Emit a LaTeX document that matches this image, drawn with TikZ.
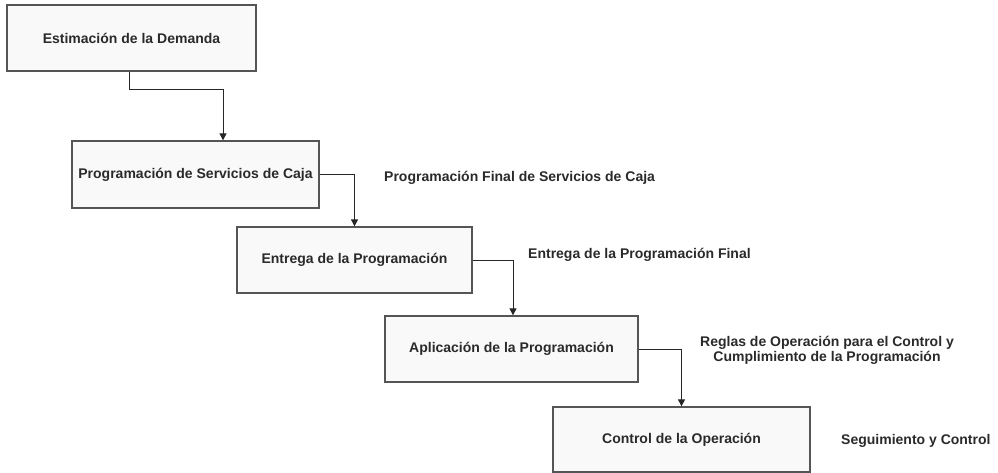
\documentclass[tikz,border=0pt]{standalone}
\usepackage{fontspec}
\setmainfont{Liberation Sans}
\usetikzlibrary{arrows.meta}
\definecolor{txt}{HTML}{2A2A2A}
\definecolor{edge}{HTML}{555555}
\definecolor{boxfill}{HTML}{F9F9F9}
\tikzset{
  stepbox/.style={draw=edge, fill=boxfill, line width=1.3pt, rectangle, inner sep=0pt,
    font=\fontsize{14}{16}\selectfont\bfseries, text=txt},
  conn/.style={draw=black!85, line width=1pt, -{Triangle[length=7pt,width=7pt]}},
  lab/.style={font=\fontsize{14}{15.5}\selectfont\bfseries, text=txt, inner sep=0pt}
}
\begin{document}
\begin{tikzpicture}[x=1pt,y=-1pt]
\useasboundingbox (0,0) rectangle (998,473);
\node[stepbox, minimum width=249pt, minimum height=66pt] (b1) at (131.5,38) {Estimación de la Demanda};
\node[stepbox, minimum width=247pt, minimum height=67pt] (b2) at (195.5,174.5) {Programación de Servicios de Caja};
\node[stepbox, minimum width=235pt, minimum height=66pt] (b3) at (354.5,260) {Entrega de la Programación};
\node[stepbox, minimum width=253pt, minimum height=66pt] (b4) at (511.5,349) {Aplicación de la Programación};
\node[stepbox, minimum width=257pt, minimum height=65pt] (b5) at (681.5,439.5) {Control de la Operación};

\draw[conn] ([xshift=-2.5pt]b1.south) -- ++(0,18) -| ([xshift=27.5pt]b2.north);
\draw[conn] (b2.east) -| (b3.north);
\draw[conn] (b3.east) -| ([xshift=1.5pt]b4.north);
\draw[conn] (b4.east) -| (b5.north);

\node[lab, anchor=west] (l1) at (384,178) {Programación Final de Servicios de Caja};
\node[lab, anchor=west] (l2) at (528,255) {Entrega de la Programación Final};
\node[lab, align=center] (l3) at (827,350.5) {Reglas de Operación para el Control y\\Cumplimiento de la Programación};
\node[lab, anchor=west] (l4) at (841,441) {Seguimiento y Control};
\end{tikzpicture}
\end{document}
